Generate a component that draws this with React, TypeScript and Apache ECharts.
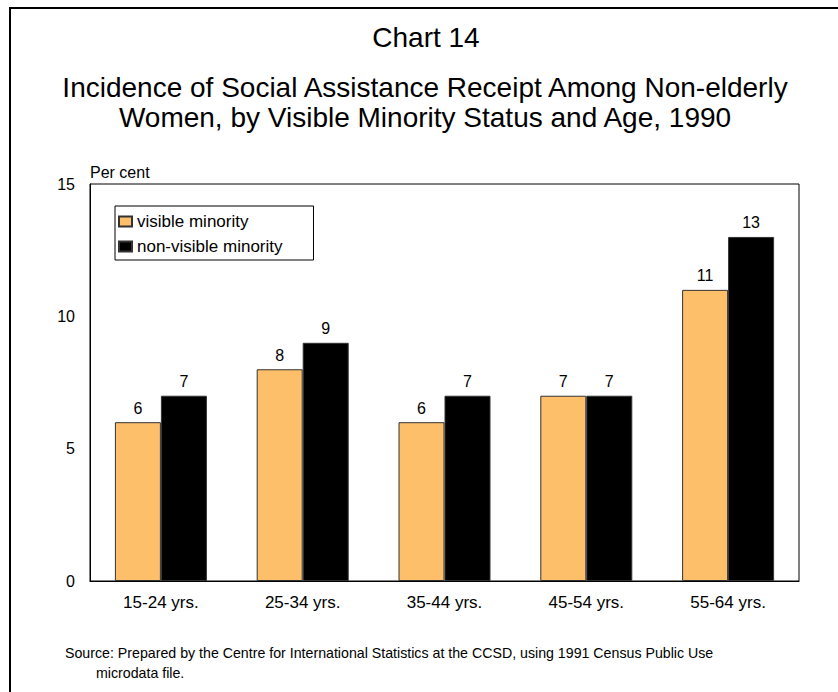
import React, { useEffect, useRef } from "react";
import * as echarts from "echarts";

const categories = ["15-24 yrs.", "25-34 yrs.", "35-44 yrs.", "45-54 yrs.", "55-64 yrs."];
const visibleMinority = [6, 8, 6, 7, 11];
const nonVisibleMinority = [7, 9, 7, 7, 13];
const seriesNames = ["visible minority", "non-visible minority"];
const yMin = 0;
const yMax = 15;
const yInterval = 5;

const titleMain = "Chart 14";
const titleSub = "Incidence of Social Assistance Receipt Among Non-elderly\nWomen, by Visible Minority Status and Age, 1990";
const sourceLine1 = "Source: Prepared by the Centre for International Statistics at the CCSD, using 1991 Census Public Use";
const sourceLine2 = "microdata file.";
const yAxisName = "Per cent";

const FONT = "'Liberation Sans', Arial, sans-serif";

export default function App() {
  const ref = useRef<HTMLDivElement>(null);
  useEffect(() => {
    if (!ref.current) return;
    const chart = echarts.init(ref.current, null, { renderer: "svg" });
    chart.setOption({
      animation: false,
      backgroundColor: "#fff",
      textStyle: { fontFamily: FONT, color: "#000" },
      title: [
        {
          text: titleMain,
          left: 421,
          top: 18,
          textAlign: "center",
          textStyle: { fontSize: 28, fontWeight: "normal", color: "#000", fontFamily: FONT },
        },
        {
          text: titleSub,
          left: 420,
          top: 67,
          textAlign: "center",
          textStyle: { fontSize: 28, lineHeight: 30, fontWeight: "normal", color: "#000", fontFamily: FONT },
        },
        {
          text: sourceLine1,
          left: 60,
          top: 641,
          textStyle: { fontSize: 14.2, fontWeight: "normal", color: "#000", fontFamily: FONT },
        },
        {
          text: sourceLine2,
          left: 91,
          top: 661,
          textStyle: { fontSize: 14.2, fontWeight: "normal", color: "#000", fontFamily: FONT },
        },
      ],
      graphic: [
        {
          type: "rect",
          shape: { x: 10, y: 8, width: 900, height: 800 },
          style: { fill: "none", stroke: "#000", lineWidth: 2 },
          silent: true,
        },
      ],
      legend: {
        orient: "vertical",
        left: 115,
        top: 206,
        data: seriesNames,
        icon: "rect",
        itemWidth: 13,
        itemHeight: 10,
        itemGap: 4,
        borderColor: "#000",
        borderWidth: 1,
        padding: [5, 31, 3, 3],
        textStyle: { fontSize: 17, lineHeight: 21, color: "#000", fontFamily: FONT },
      },
      grid: {
        left: 90,
        top: 184,
        width: 709,
        height: 397,
        show: true,
        borderColor: "#000",
        borderWidth: 1,
        backgroundColor: "transparent",
      },
      xAxis: {
        type: "category",
        data: categories,
        axisLine: { show: true, lineStyle: { color: "#000", width: 1 } },
        axisTick: { show: false },
        axisLabel: { fontSize: 17, color: "#000", margin: 13, fontFamily: FONT },
        splitLine: { show: false },
      },
      yAxis: {
        type: "value",
        min: yMin,
        max: yMax,
        interval: yInterval,
        name: yAxisName,
        nameLocation: "end",
        nameGap: 4,
        nameTextStyle: { fontSize: 16, color: "#000", align: "left", fontFamily: FONT },
        axisLine: { show: true, lineStyle: { color: "#000", width: 1 } },
        axisTick: { show: false },
        axisLabel: { fontSize: 16, color: "#000", margin: 15, fontFamily: FONT },
        splitLine: { show: false },
      },
      series: [
        {
          name: seriesNames[0],
          type: "bar",
          data: visibleMinority,
          barWidth: 46,
          barGap: "0%",
          itemStyle: { color: "#FDBF69", borderColor: "#333", borderWidth: 1 },
          label: { show: true, position: "top", distance: 6, fontSize: 16, color: "#000", fontFamily: FONT },
        },
        {
          name: seriesNames[1],
          type: "bar",
          data: nonVisibleMinority,
          barWidth: 46,
          barGap: "0%",
          itemStyle: { color: "#000", borderColor: "#333", borderWidth: 1 },
          label: { show: true, position: "top", distance: 6, fontSize: 16, color: "#000", fontFamily: FONT },
        },
      ],
    });
    return () => chart.dispose();
  }, []);
  return (
    <div
      ref={ref}
      style={{ position: "fixed", left: 0, top: 0, width: 838, height: 692, background: "#fff" }}
    />
  );
}
